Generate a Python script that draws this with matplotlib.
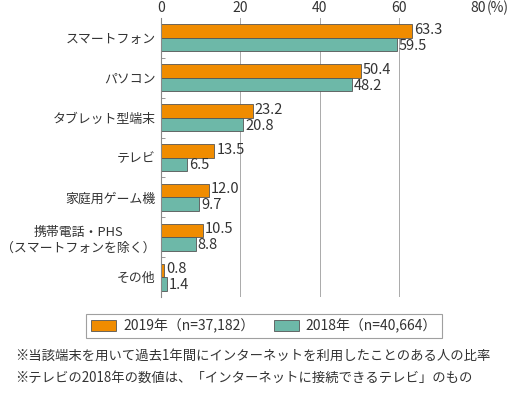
import numpy as np
import matplotlib.pyplot as plt
from matplotlib.patches import Patch

plt.rcParams['font.family'] = ['Noto Sans CJK JP', 'DejaVu Sans']

categories = ['スマートフォン', 'パソコン', 'タブレット型端末', 'テレビ', '家庭用ゲーム機',
              '携帯電話・PHS\n（スマートフォンを除く）', 'その他']
v2019 = [63.3, 50.4, 23.2, 13.5, 12.0, 10.5, 0.8]
v2018 = [59.5, 48.2, 20.8, 6.5, 9.7, 8.8, 1.4]
labels = ['2019年（n=37,182）', '2018年（n=40,664）']
notes = ['※当該端末を用いて過去1年間にインターネットを利用したことのある人の比率',
         '※テレビの2018年の数値は、「インターネットに接続できるテレビ」のもの']

c19 = '#f08c00'
c18 = '#6db8a8'
edge = '#555555'
txt = '#333333'

fig = plt.figure(figsize=(5.1, 3.95), dpi=100)
ax = fig.add_axes([161 / 510, 1 - 297 / 395, 317 / 510, 279 / 395])

y = np.arange(len(categories))
h = 0.34
ax.barh(y - h / 2, v2019, height=h, color=c19, edgecolor=edge, linewidth=0.6, zorder=3)
ax.barh(y + h / 2, v2018, height=h, color=c18, edgecolor=edge, linewidth=0.6, zorder=3)

for yi, a, b in zip(y, v2019, v2018):
    ax.text(a + 0.5, yi - h / 2 - 0.03, f'{a:.1f}', va='center', ha='left', fontsize=10.5, color=txt)
    ax.text(b + 0.5, yi + h / 2 + 0.03, f'{b:.1f}', va='center', ha='left', fontsize=10.5, color=txt)

ax.set_xlim(0, 80)
ax.set_ylim(len(categories) - 0.5, -0.5)
ax.xaxis.tick_top()
ax.set_xticks([0, 20, 40, 60, 80])
ax.set_xticklabels(['0', '20', '40', '60', '80'])
ax.tick_params(axis='x', length=0, labelsize=10, labelcolor=txt, pad=2)
ax.text(82.3, -0.56, '(%)', fontsize=10, color=txt, ha='left', va='bottom')
ax.set_yticks(y)
ax.set_yticklabels(categories, fontsize=9.3, color=txt, linespacing=1.3)
ax.tick_params(axis='y', length=0, pad=4)
ax.set_yticks(np.arange(len(categories) - 1) + 0.5, minor=True)
ax.tick_params(axis='y', which='minor', length=3, direction='in', color='#888888')
for lab in ax.get_yticklabels():
    lab.set_multialignment('center')

ax.grid(axis='x', color='#aaaaaa', linewidth=0.7, zorder=0)
for s in ['top', 'bottom', 'right']:
    ax.spines[s].set_visible(False)
ax.spines['left'].set_color('#888888')
ax.spines['left'].set_zorder(4)

handles = [Patch(facecolor=c19, edgecolor=edge, linewidth=0.6),
           Patch(facecolor=c18, edgecolor=edge, linewidth=0.6)]
leg = fig.legend(handles, labels, loc='center', bbox_to_anchor=(264 / 510, 1 - 326 / 395),
                 ncol=2, frameon=True, fancybox=False, fontsize=10, handlelength=1.8,
                 handleheight=0.8, columnspacing=1.4, borderpad=0.35, handletextpad=0.5)
leg.get_frame().set_edgecolor('#888888')
leg.get_frame().set_linewidth(0.8)
for t in leg.get_texts():
    t.set_color(txt)

fig.text(15 / 510, 1 - 356 / 395, notes[0], fontsize=9.6, color=txt, va='center')
fig.text(15 / 510, 1 - 378 / 395, notes[1], fontsize=9.6, color=txt, va='center')

fig.savefig('out.png', dpi=100)
